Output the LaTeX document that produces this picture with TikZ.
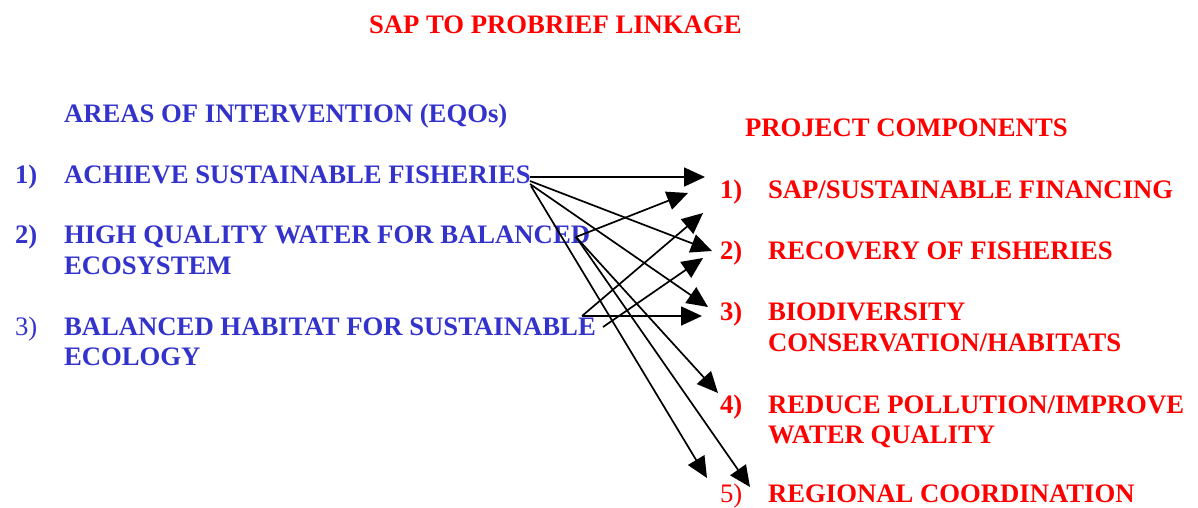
\documentclass[tikz,border=0pt]{standalone}
\usepackage{fontspec}
\setmainfont{Liberation Serif}
\usetikzlibrary{arrows.meta}
\definecolor{eqoblue}{RGB}{51,51,204}
\definecolor{pcred}{RGB}{255,0,0}
\begin{document}
\begin{tikzpicture}[x=1pt,y=-1pt,
  every node/.style={inner sep=0pt, outer sep=0pt, anchor=base west},
  txt/.style={font=\fontsize{26.7}{31}\selectfont\bfseries},
  txtreg/.style={font=\fontsize{26.7}{31}\selectfont},
  eqo/.style={txt, text=eqoblue},
  eqoreg/.style={txtreg, text=eqoblue},
  pc/.style={txt, text=pcred},
  pcreg/.style={txtreg, text=pcred},
  arr/.style={line width=1.7pt, -{Triangle[length=21pt, width=19pt]}}]
\useasboundingbox (0,0) rectangle (1198,508);

% title
\node[pc] (title) at (369,34) {SAP TO PROBRIEF LINKAGE};

% left column
\node[eqo] (lhead) at (64,122) {AREAS OF INTERVENTION (EQOs)};
\node[eqo] (ln1) at (15,183) {1)};
\node[eqo] (l1) at (64,183) {ACHIEVE SUSTAINABLE FISHERIES};
\node[eqo] (ln2) at (15,243) {2)};
\node[eqo] (l2a) at (64,243) {HIGH QUALITY WATER FOR BALANCED};
\node[eqo] (l2b) at (64,274) {ECOSYSTEM};
\node[eqoreg] (ln3) at (15,335) {3)};
\node[eqo] (l3a) at (64,335) {BALANCED HABITAT FOR SUSTAINABLE};
\node[eqo] (l3b) at (64,365) {ECOLOGY};

% right column
\node[pc] (rhead) at (745,136) {PROJECT COMPONENTS};
\node[pc] (rn1) at (720,198) {1)};
\node[pc] (r1) at (768,198) {SAP/SUSTAINABLE FINANCING};
\node[pc] (rn2) at (720,259) {2)};
\node[pc] (r2) at (768,259) {RECOVERY OF FISHERIES};
\node[pc] (rn3) at (720,320) {3)};
\node[pc] (r3a) at (768,320) {BIODIVERSITY};
\node[pc] (r3b) at (768,351) {CONSERVATION/HABITATS};
\node[pc] (rn4) at (720,413) {4)};
\node[pc] (r4a) at (768,413) {REDUCE POLLUTION/IMPROVE};
\node[pc] (r4b) at (768,443) {WATER QUALITY};
\node[pcreg] (rn5) at (720,502) {5)};
\node[pc] (r5) at (768,502) {REGIONAL COORDINATION};

% connector end points
\coordinate (s1a) at (530,177);
\coordinate (s1b) at (530,181);
\coordinate (s1c) at (530,184);
\coordinate (s1d) at (531,186);
\coordinate (s2) at (576,237);
\coordinate (s3) at (582,316);
\coordinate (s3b) at (603,327);

\coordinate (t1a) at (705,177);
\coordinate (t1b) at (688,193);
\coordinate (t1c) at (703,213);
\coordinate (t2a) at (712,251);
\coordinate (t2b) at (703,258);
\coordinate (t3a) at (708,307);
\coordinate (t3b) at (702,316);
\coordinate (t4) at (718,393);
\coordinate (t5a) at (707,478);
\coordinate (t5b) at (750,487);

% connectors
\draw[arr] (s1a) -- (t1a);
\draw[arr] (s1b) -- (t2a);
\draw[arr] (s1c) -- (t3a);
\draw[arr] (s1d) -- (t5a);
\draw[arr] (s2) -- (t1b);
\draw[arr] (s2) -- (t4);
\draw[arr] (s2) -- (t5b);
\draw[arr] (s3) -- (t3b);
\draw[arr] (s3) -- (t1c);
\draw[arr] (s3b) -- (t2b);
\end{tikzpicture}
\end{document}
